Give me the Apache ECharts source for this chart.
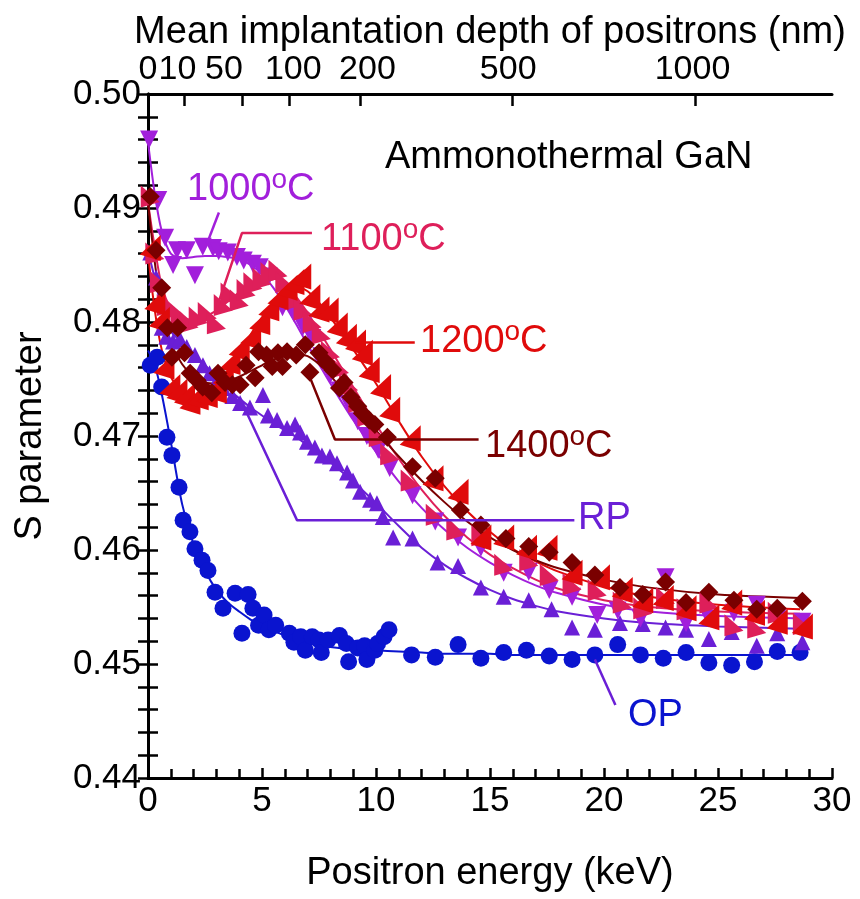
<!DOCTYPE html>
<html>
<head>
<meta charset="utf-8">
<title>S parameter vs positron energy</title>
<script src="https://cdn.jsdelivr.net/npm/echarts@6/dist/echarts.min.js"></script>
<style>
  html, body { margin: 0; padding: 0; background: #fff; }
  #chart { width: 860px; height: 899px; }
</style>
</head>
<body>
<div id="chart"></div>
<script>
// ---- data: [energy keV, S] ----
const opPoints = [
  [0.1, 0.4762], [0.4, 0.4769], [0.6, 0.4743], [0.83, 0.4699], [1.05, 0.4683], [1.36, 0.4655],
  [1.54, 0.4626], [1.84, 0.4616], [2.06, 0.4601], [2.37, 0.4591], [2.63, 0.4582], [2.94, 0.4563],
  [3.29, 0.4549], [3.82, 0.4562], [4.12, 0.4527], [4.39, 0.4561], [4.6, 0.4549], [4.85, 0.4534],
  [5.09, 0.4543], [5.3, 0.4530], [5.6, 0.4534], [6.2, 0.4527], [6.4, 0.4519], [6.7, 0.4524],
  [6.9, 0.4512], [7.2, 0.4524], [7.5, 0.4521], [7.6, 0.4510], [7.9, 0.4521], [8.4, 0.4525],
  [8.7, 0.4518], [8.8, 0.4502], [9.2, 0.4514], [9.5, 0.4516], [9.6, 0.4504], [9.95, 0.4512],
  [10.07, 0.4518], [10.35, 0.4524], [10.57, 0.4530], [11.56, 0.4508], [12.6, 0.4506],
  [13.6, 0.4517], [14.6, 0.4505], [15.6, 0.4510], [16.6, 0.4512], [17.6, 0.4507], [18.6, 0.4504],
  [19.6, 0.4508], [20.6, 0.4517], [21.6, 0.4508], [22.6, 0.4505], [23.6, 0.4510], [24.6, 0.4501],
  [25.6, 0.4499], [26.6, 0.4502], [27.6, 0.4511], [28.6, 0.4510]
];
const rpPoints = [
  [0.1, 0.4861], [0.35, 0.4839], [0.6, 0.4795], [0.8, 0.4787], [1.1, 0.4783], [1.4, 0.4785],
  [1.7, 0.4778], [2.06, 0.4771], [2.41, 0.4762], [2.7, 0.4755], [3.0, 0.4748], [3.3, 0.4742],
  [3.7, 0.4735], [4.04, 0.4729], [4.47, 0.4725], [5.04, 0.4736], [5.26, 0.4718], [5.66, 0.4714],
  [6.1, 0.4707], [6.45, 0.4710], [6.67, 0.4703], [6.97, 0.4695], [7.32, 0.4690], [7.63, 0.4683],
  [7.98, 0.4682], [8.29, 0.4676], [8.73, 0.4668], [8.99, 0.4661], [9.3, 0.4651], [9.74, 0.4644],
  [10.04, 0.4641], [10.3, 0.4629], [10.75, 0.4611], [11.6, 0.4610], [12.7, 0.4589], [13.6, 0.4586],
  [14.6, 0.4567], [15.6, 0.4559], [16.7, 0.4556], [17.7, 0.4548], [18.6, 0.4532], [19.6, 0.4530],
  [20.7, 0.4536], [21.7, 0.4535], [22.7, 0.4532], [23.6, 0.4530], [24.6, 0.4522], [25.6, 0.4528],
  [26.7, 0.4516], [27.6, 0.4527], [28.7, 0.4519]
];
const c1000Points = [
  [0.05, 0.4960], [0.45, 0.4907], [0.75, 0.4874], [1.1, 0.4850], [1.27, 0.4863], [1.7, 0.4863],
  [2.06, 0.4841], [2.4, 0.4866], [2.85, 0.4865], [3.1, 0.4862], [3.5, 0.4861], [3.9, 0.4857],
  [4.2, 0.4854], [4.6, 0.4851], [4.9, 0.4848], [5.3, 0.4840], [5.9, 0.4813], [6.4, 0.4808],
  [6.8, 0.4796], [7.2, 0.4786], [7.6, 0.4770], [8.0, 0.4754], [8.4, 0.4740], [8.8, 0.4728],
  [9.2, 0.4713], [9.6, 0.4700], [10.1, 0.4688], [10.6, 0.4672], [11.6, 0.4648], [12.6, 0.4625],
  [13.6, 0.4611], [14.6, 0.4602], [15.6, 0.4580], [16.7, 0.4581], [17.6, 0.4565], [18.6, 0.4559],
  [19.7, 0.4543], [20.6, 0.4547], [21.6, 0.4540], [22.7, 0.4576], [23.6, 0.4536], [24.6, 0.4540],
  [25.7, 0.4545], [26.7, 0.4552], [27.6, 0.4540], [28.7, 0.4537]
];
const c1100Points = [
  [0.1, 0.4910], [0.3, 0.4860], [0.5, 0.4835], [0.8, 0.4815], [1.1, 0.4812], [1.4, 0.4805],
  [1.8, 0.4800], [2.2, 0.4804], [2.6, 0.4808], [3.0, 0.4799], [3.3, 0.4815], [3.6, 0.4825],
  [4.0, 0.4819], [4.3, 0.4828], [4.6, 0.4834], [5.0, 0.4838], [5.35, 0.4843], [5.7, 0.4845],
  [6.0, 0.4835], [6.4, 0.4820], [6.8, 0.4811], [7.2, 0.4800], [7.6, 0.4790], [8.0, 0.4774],
  [8.4, 0.4760], [8.8, 0.4745], [9.2, 0.4730], [9.6, 0.4718], [10.1, 0.4700], [10.6, 0.4684],
  [11.5, 0.4661], [12.6, 0.4631], [13.5, 0.4618], [14.6, 0.4613], [15.6, 0.4587], [16.7, 0.4591],
  [17.6, 0.4578], [18.6, 0.4570], [19.7, 0.4565], [20.8, 0.4554], [21.7, 0.4549], [22.7, 0.4558],
  [23.6, 0.4548], [24.6, 0.4554], [25.7, 0.4534], [26.7, 0.4532], [27.6, 0.4545], [28.7, 0.4535]
];
const c1200Points = [
  [0.1, 0.4865], [0.3, 0.4817], [0.5, 0.4802], [0.7, 0.4761], [0.96, 0.4743], [1.27, 0.4739],
  [1.6, 0.4735], [1.84, 0.4730], [2.2, 0.4734], [2.6, 0.4736], [3.0, 0.4740], [3.3, 0.4752],
  [3.6, 0.4765], [4.0, 0.4777], [4.5, 0.4787], [4.9, 0.4800], [5.3, 0.4812], [5.7, 0.4822],
  [6.1, 0.4830], [6.4, 0.4835], [6.7, 0.4840], [7.1, 0.4822], [7.5, 0.4811], [7.9, 0.4810],
  [8.3, 0.4797], [8.7, 0.4787], [9.1, 0.4782], [9.4, 0.4773], [9.7, 0.4758], [10.2, 0.4743],
  [10.6, 0.4723], [11.5, 0.4698], [12.5, 0.4663], [13.6, 0.4651], [14.6, 0.4611], [15.6, 0.4611],
  [16.6, 0.4602], [17.5, 0.4602], [18.6, 0.4580], [19.8, 0.4576], [20.8, 0.4565], [21.7, 0.4556],
  [22.6, 0.4558], [23.6, 0.4549], [24.6, 0.4541], [25.6, 0.4554], [26.6, 0.4545], [27.6, 0.4537],
  [28.7, 0.4533]
];
const c1400Points = [
  [0.1, 0.4910], [0.35, 0.4863], [0.6, 0.4830], [0.85, 0.4795], [1.05, 0.4769], [1.3, 0.4795],
  [1.6, 0.4773], [1.85, 0.4755], [2.15, 0.4749], [2.4, 0.4743], [2.8, 0.4738], [3.07, 0.4755],
  [3.38, 0.4747], [3.7, 0.4745], [4.04, 0.4745], [4.3, 0.4762], [4.7, 0.4751], [4.85, 0.4774],
  [5.2, 0.4771], [5.45, 0.4761], [5.7, 0.4773], [5.9, 0.4761], [6.1, 0.4774], [6.5, 0.4771],
  [6.9, 0.4780], [7.1, 0.4756], [7.5, 0.4773], [7.8, 0.4765], [8.1, 0.4758], [8.4, 0.4742],
  [8.6, 0.4747], [8.9, 0.4734], [9.2, 0.4726], [9.4, 0.4720], [9.7, 0.4714], [9.95, 0.4710],
  [10.5, 0.4699], [11.6, 0.4673], [12.6, 0.4663], [13.7, 0.4635], [14.6, 0.4622], [15.7, 0.4610],
  [16.7, 0.4603], [17.6, 0.4598], [18.6, 0.4589], [19.6, 0.4578], [20.7, 0.4567], [21.7, 0.4561],
  [22.7, 0.4572], [23.6, 0.4554], [24.6, 0.4563], [25.7, 0.4556], [26.7, 0.4548], [27.6, 0.4549],
  [28.7, 0.4555]
];

// fitted curves, sampled on a common energy grid
const fitEnergy = [0, 0.3, 0.6, 1, 1.5, 2, 2.5, 3, 3.5, 4, 4.5, 5, 5.5, 6, 6.5, 7, 7.5, 8, 9, 10, 11, 12, 13, 14, 15, 16, 17, 18, 20, 22, 25, 28.6];
const opFit   = [0.4775, 0.4762, 0.4737, 0.4695, 0.4640, 0.4605, 0.4582, 0.4565, 0.4554, 0.4546, 0.4539, 0.4533, 0.4529, 0.4525, 0.4522, 0.4519, 0.4517, 0.4515, 0.4513, 0.4512, 0.4511, 0.4510, 0.4509, 0.4509, 0.4509, 0.4508, 0.4508, 0.4508, 0.4508, 0.4508, 0.4508, 0.4508];
const rpFit   = [0.4862, 0.4838, 0.4812, 0.4792, 0.4782, 0.4772, 0.4762, 0.4752, 0.4742, 0.4733, 0.4725, 0.4718, 0.4711, 0.4705, 0.4699, 0.4692, 0.4685, 0.4677, 0.4660, 0.4641, 0.4621, 0.4602, 0.4587, 0.4575, 0.4565, 0.4557, 0.4551, 0.4546, 0.4540, 0.4536, 0.4533, 0.4531];
const c1000Fit = [0.4958, 0.4912, 0.4880, 0.4860, 0.4856, 0.4857, 0.4858, 0.4858, 0.4857, 0.4855, 0.4850, 0.4842, 0.4830, 0.4815, 0.4798, 0.4780, 0.4763, 0.4746, 0.4714, 0.4686, 0.4660, 0.4637, 0.4618, 0.4602, 0.4589, 0.4578, 0.4569, 0.4562, 0.4552, 0.4546, 0.4542, 0.4540];
const c1100Fit = [0.4905, 0.4865, 0.4832, 0.4812, 0.4804, 0.4802, 0.4805, 0.4810, 0.4818, 0.4826, 0.4833, 0.4837, 0.4838, 0.4833, 0.4822, 0.4808, 0.4792, 0.4776, 0.4743, 0.4710, 0.4680, 0.4653, 0.4630, 0.4611, 0.4596, 0.4584, 0.4574, 0.4566, 0.4556, 0.4550, 0.4546, 0.4544];
const c1200Fit = [0.4860, 0.4810, 0.4776, 0.4752, 0.4739, 0.4734, 0.4736, 0.4743, 0.4757, 0.4773, 0.4789, 0.4804, 0.4817, 0.4826, 0.4831, 0.4827, 0.4817, 0.4804, 0.4776, 0.4746, 0.4713, 0.4682, 0.4656, 0.4634, 0.4616, 0.4601, 0.4590, 0.4581, 0.4568, 0.4559, 0.4552, 0.4548];
const c1400Fit = [0.4905, 0.4852, 0.4812, 0.4782, 0.4763, 0.4752, 0.4747, 0.4746, 0.4748, 0.4752, 0.4757, 0.4762, 0.4767, 0.4770, 0.4772, 0.4770, 0.4763, 0.4753, 0.4729, 0.4705, 0.4682, 0.4661, 0.4642, 0.4625, 0.4611, 0.4600, 0.4591, 0.4584, 0.4574, 0.4567, 0.4561, 0.4558];

// top axis: mean implantation depth (nm), z = 4.5 * E^1.7
const depthTicks = [0, 10, 50, 100, 200, 500, 1000];
const depthToEnergy = z => Math.pow(z / 4.5, 1 / 1.7);
const depthEnergy = depthTicks.map(depthToEnergy);
// horizontal nudge (px) of each top label, as typeset in the original
const depthLabelShift = [0, -7, -18, 4, 7, -4, -3];

// leader lines of the annotations, in data units
const lead1000 = [[3.11, 0.4896], [2.59, 0.4869]];
const lead1100 = [[7.19, 0.4878], [4.12, 0.4878], [2.94, 0.4808]];
const lead1200 = [[9.1, 0.4782], [11.7, 0.4782]];
const lead1400 = [[6.97, 0.4758], [8.2, 0.4697], [14.5, 0.4697]];
const leadRP   = [[4.34, 0.4720], [6.54, 0.4626], [18.7, 0.4626]];
const leadOP   = [[19.6, 0.4504], [20.5, 0.4464]];

const COLORS = {
  op: '#0a14cf', rp: '#6a1fd6', c1000: '#a21fdb', c1100: '#de1f5a', c1200: '#e00b0b', c1400: '#7a0000'
};
const FONT = '"Liberation Sans", Arial, sans-serif';
const TEXT_SIZE = 38;

const chart = echarts.init(document.getElementById('chart'));

const zip = (xs, ys) => xs.map((x, i) => [x, ys[i]]);

function fitSeries(vals, color) {
  return {
    type: 'line', data: zip(fitEnergy, vals), smooth: 0.3, showSymbol: false, symbol: 'none',
    lineStyle: { color: color, width: 2 }, silent: true, z: 2
  };
}
function pointSeries(pts, color, symbol, size, rotate) {
  return {
    type: 'scatter', data: pts, symbol: symbol, symbolSize: size, symbolRotate: rotate || 0,
    itemStyle: { color: color, opacity: 1 }, silent: true, z: 3
  };
}
function leadSeries(pts, color) {
  return {
    type: 'line', data: pts, showSymbol: false, symbol: 'none',
    lineStyle: { color: color, width: 2.5 }, silent: true, z: 4
  };
}
function tempLabel(x, y, t, color) {
  return {
    type: 'text', left: x, top: y - 24,
    style: {
      text: '{a|' + t + '}{s|o}{a|C}',
      fill: color,
      rich: {
        a: { fontSize: TEXT_SIZE, fontFamily: FONT, fill: color, lineHeight: 48 },
        s: { fontSize: 28, fontFamily: FONT, fill: color, verticalAlign: 'top' }
      }
    }
  };
}
function plainLabel(x, y, t, color) {
  return {
    type: 'text', left: x, top: y - 21,
    style: { text: t, fill: color, fontSize: TEXT_SIZE, fontFamily: FONT }
  };
}

const axisLineStyle = { color: '#000', width: 3 };

chart.setOption({
  backgroundColor: '#fff',
  animation: false,
  grid: { left: 148, right: 28, top: 94, bottom: 121, containLabel: false },
  xAxis: [
    {
      type: 'value', position: 'bottom', min: 0, max: 30, interval: 5,
      name: 'Positron energy (keV)', nameLocation: 'middle', nameGap: 77,
      nameTextStyle: { fontSize: TEXT_SIZE, color: '#000', fontFamily: FONT },
      axisLine: { lineStyle: axisLineStyle },
      axisTick: { inside: true, length: 10, lineStyle: { color: '#000', width: 2.5 } },
      minorTick: { show: true, splitNumber: 5, length: 9, lineStyle: { color: '#000', width: 2.5 } },
      axisLabel: { fontSize: 35, color: '#000', fontFamily: FONT, margin: 6 },
      splitLine: { show: false }
    },
    {
      type: 'value', position: 'top', min: 0, max: 30,
      name: 'Mean implantation depth of positrons (nm)', nameLocation: 'middle', nameGap: 42,
      nameTextStyle: { fontSize: TEXT_SIZE, color: '#000', fontFamily: FONT },
      axisLine: { lineStyle: axisLineStyle },
      axisTick: { inside: true, length: 12, customValues: depthEnergy, lineStyle: { color: '#000', width: 2.5 } },
      axisLabel: { show: false },
      splitLine: { show: false }
    }
  ],
  yAxis: [
    {
      type: 'value', position: 'left', min: 0.44, max: 0.50, interval: 0.01,
      name: 'S parameter', nameLocation: 'middle', nameGap: 98,
      nameTextStyle: { fontSize: TEXT_SIZE, color: '#000', fontFamily: FONT },
      axisLine: { lineStyle: axisLineStyle },
      axisTick: { inside: true, length: 10, lineStyle: { color: '#000', width: 2.5 } },
      minorTick: { show: true, splitNumber: 5, length: 10, lineStyle: { color: '#000', width: 2.5 } },
      axisLabel: { fontSize: 35, color: '#000', fontFamily: FONT, margin: 7, formatter: v => v.toFixed(2) },
      splitLine: { show: false }
    },
    {
      type: 'value', position: 'right', min: 0.44, max: 0.50, interval: 0.01,
      axisLine: { lineStyle: axisLineStyle },
      axisTick: { inside: true, length: 10, lineStyle: { color: '#000', width: 2.5 } },
      minorTick: { show: true, splitNumber: 5, length: 10, lineStyle: { color: '#000', width: 2.5 } },
      axisLabel: { show: false },
      splitLine: { show: false }
    }
  ],
  series: [
    fitSeries(opFit, COLORS.op),
    fitSeries(rpFit, COLORS.rp),
    fitSeries(c1000Fit, COLORS.c1000),
    fitSeries(c1100Fit, COLORS.c1100),
    fitSeries(c1200Fit, COLORS.c1200),
    fitSeries(c1400Fit, COLORS.c1400),
    pointSeries(opPoints, COLORS.op, 'circle', 17),
    pointSeries(rpPoints, COLORS.rp, 'triangle', 16),
    pointSeries(c1000Points, COLORS.c1000, 'triangle', 18, 180),
    pointSeries(c1100Points, COLORS.c1100, 'path://M0,0 L0,12 L10,9 Z', [19, 22]),
    pointSeries(c1200Points, COLORS.c1200, 'path://M10,0 L10,12 L0,9 Z', [21, 26]),
    pointSeries(c1400Points, COLORS.c1400, 'diamond', 19),
    leadSeries(lead1000, COLORS.c1000),
    leadSeries(lead1100, COLORS.c1100),
    leadSeries(lead1200, COLORS.c1200),
    leadSeries(lead1400, COLORS.c1400),
    leadSeries(leadRP, COLORS.rp),
    leadSeries(leadOP, COLORS.rp)
  ]
});

// top-axis depth labels, placed at the tick positions of the top axis
const topLabels = depthEnergy.map((e, i) => ({
  type: 'text',
  x: chart.convertToPixel({ xAxisIndex: 1 }, e) + depthLabelShift[i],
  y: 70,
  style: {
    text: String(depthTicks[i]), fill: '#000', fontSize: 34, fontFamily: FONT,
    align: 'center', verticalAlign: 'middle', textAlign: 'center', textVerticalAlign: 'middle'
  }
}));

chart.setOption({
  graphic: [
    plainLabel(385, 160, 'Ammonothermal GaN', '#000'),
    tempLabel(187, 190, '1000', COLORS.c1000),
    tempLabel(321, 240, '1100', COLORS.c1100),
    tempLabel(420, 342, '1200', COLORS.c1200),
    tempLabel(485, 447, '1400', COLORS.c1400),
    plainLabel(578, 521, 'RP', COLORS.rp),
    plainLabel(628, 718, 'OP', COLORS.op)
  ].concat(topLabels)
});
</script>
</body>
</html>
